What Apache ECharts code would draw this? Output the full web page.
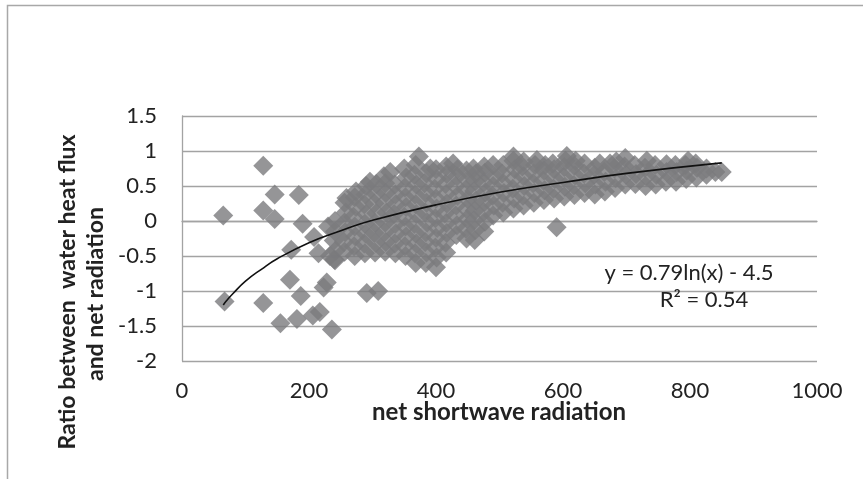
<!DOCTYPE html>
<html>
<head>
<meta charset="utf-8">
<title>ratio vs net shortwave radiation</title>
<script src="https://cdn.jsdelivr.net/npm/echarts@6/dist/echarts.min.js"></script>
<style>
  html, body { margin: 0; padding: 0; background: #fff; }
  #chart { width: 863px; height: 479px; }
</style>
</head>
<body>
<div id="chart"></div>
<script>
// scattered points away from the main cloud [x, y]
const sparsePoints = [
  [65, 0.08], [67, -1.15], [128, 0.79], [128, 0.15], [128, -1.17],
  [146, 0.38], [146, 0.03], [184, 0.37], [190, -0.04], [172, -0.41],
  [170, -0.84], [187, -1.07], [155, -1.46], [181, -1.40], [206, -1.35],
  [217, -1.30], [236, -1.55], [208, -0.23], [215, -0.46], [228, -0.88],
  [223, -0.95], [291, -1.03], [309, -1.00], [590, -0.09], [230, -0.08],
  [233, -0.50], [241, -0.56]
]

// main cloud, 240 - 480
const cloudLeft = [
  [240, -0.55], [242, -0.42], [239, -0.28], [241, -0.15], [241, 0.0],
  [256, -0.44], [255, -0.30], [257, -0.16], [256, -0.02], [258, 0.12], [256, 0.26], [259, 0.33],
  [272, -0.50], [271, -0.36], [273, -0.22], [272, -0.08], [270, 0.06], [274, 0.20], [272, 0.34], [274, 0.42],
  [288, -0.46], [287, -0.32], [289, -0.18], [288, -0.04], [290, 0.10], [287, 0.24], [289, 0.38], [290, 0.50],
  [304, -0.45], [305, -0.31], [303, -0.17], [304, -0.03], [306, 0.11], [303, 0.25], [305, 0.39], [296, 0.56], [306, 0.53],
  [320, -0.44], [321, -0.30], [319, -0.16], [320, -0.02], [322, 0.12], [319, 0.26], [321, 0.40], [320, 0.54], [318, 0.64],
  [336, -0.46], [335, -0.32], [337, -0.18], [336, -0.04], [334, 0.10], [337, 0.24], [336, 0.38], [335, 0.52], [328, 0.70],
  [352, -0.50], [351, -0.36], [353, -0.22], [352, -0.08], [350, 0.06], [353, 0.20], [352, 0.34], [351, 0.48], [353, 0.62], [350, 0.75],
  [368, -0.60], [367, -0.46], [369, -0.32], [368, -0.18], [366, -0.04], [369, 0.10], [368, 0.24], [367, 0.38], [369, 0.52], [366, 0.66], [368, 0.80], [373, 0.92],
  [384, -0.60], [385, -0.45], [383, -0.30], [384, -0.16], [386, -0.02], [383, 0.12], [385, 0.26], [384, 0.40], [382, 0.54], [385, 0.68], [391, 0.75],
  [400, -0.66], [401, -0.52], [399, -0.38], [400, -0.24], [402, -0.10], [399, 0.04], [401, 0.18], [400, 0.32], [398, 0.46], [401, 0.60], [400, 0.74],
  [416, -0.45], [415, -0.31], [417, -0.17], [416, -0.03], [414, 0.11], [417, 0.25], [416, 0.39], [415, 0.53], [417, 0.67], [416, 0.78],
  [432, -0.20], [433, -0.06], [431, 0.08], [432, 0.22], [434, 0.36], [431, 0.50], [433, 0.64], [427, 0.82], [434, 0.74],
  [448, -0.25], [447, -0.11], [449, 0.03], [448, 0.17], [450, 0.31], [447, 0.45], [449, 0.59], [448, 0.72],
  [461, -0.27], [462, -0.13], [460, 0.01], [461, 0.15], [463, 0.29], [460, 0.43], [462, 0.57], [459, 0.75], [463, 0.68],
  [476, -0.15], [477, -0.01], [475, 0.13], [476, 0.27], [478, 0.41], [475, 0.55], [477, 0.69], [476, 0.78]
]

// main cloud, 480 - 850
const cloudRight = [
  [490, 0.08], [491, 0.22], [489, 0.36], [490, 0.50], [492, 0.64], [490, 0.80],
  [506, 0.12], [505, 0.26], [507, 0.40], [506, 0.54], [504, 0.68], [506, 0.80],
  [522, 0.18], [523, 0.32], [521, 0.46], [522, 0.60], [524, 0.74], [522, 0.86], [522, 0.92],
  [538, 0.22], [537, 0.36], [539, 0.50], [538, 0.64], [536, 0.78], [538, 0.85],
  [554, 0.26], [555, 0.40], [553, 0.54], [554, 0.68], [556, 0.80], [559, 0.87],
  [570, 0.30], [571, 0.44], [569, 0.58], [570, 0.72], [572, 0.80],
  [586, 0.32], [585, 0.46], [587, 0.60], [586, 0.74], [584, 0.82],
  [602, 0.35], [603, 0.49], [601, 0.63], [602, 0.77], [606, 0.93], [604, 0.86],
  [618, 0.37], [617, 0.51], [619, 0.65], [618, 0.79], [620, 0.86],
  [634, 0.40], [635, 0.54], [633, 0.68], [634, 0.82],
  [650, 0.38], [651, 0.52], [649, 0.66], [658, 0.82], [650, 0.76],
  [666, 0.42], [667, 0.56], [665, 0.70], [674, 0.82],
  [682, 0.47], [683, 0.61], [681, 0.75], [684, 0.85],
  [698, 0.52], [699, 0.66], [697, 0.78], [698, 0.90],
  [714, 0.53], [715, 0.67], [713, 0.80],
  [730, 0.50], [731, 0.64], [729, 0.76], [732, 0.86],
  [746, 0.52], [747, 0.66], [745, 0.80],
  [762, 0.56], [763, 0.70], [763, 0.81],
  [778, 0.56], [779, 0.70], [777, 0.80],
  [794, 0.60], [795, 0.72], [797, 0.86], [793, 0.80],
  [810, 0.62], [811, 0.76], [809, 0.82],
  [826, 0.66], [826, 0.75],
  [840, 0.70], [850, 0.70]
]

// log trendline, points
const trendX = [65, 70, 80, 100, 125, 150, 200, 250, 300, 400, 500, 600, 700, 850]
const trendY = [-1.20, -1.14, -1.04, -0.86, -0.69, -0.54, -0.31, -0.14, 0.01, 0.23, 0.41, 0.55, 0.68, 0.83]

const xTicks = { min: 0, max: 1000, interval: 200 }
const yTicks = { min: -2, max: 1.5, interval: 0.5 }

const myChart = echarts.init(document.getElementById('chart'), null, { renderer: 'canvas' })

const fontName = 'Lato, "Open Sans", sans-serif'
const gridColor = '#a3a3a3'
const dotColor = '#7a7a7d'

myChart.setOption({
  animation: false,
  backgroundColor: '#fff',
  grid: {
    left: 182,
    right: 46,
    top: 116,
    bottom: 118
  },
  xAxis: {
    type: 'value',
    min: xTicks.min,
    max: xTicks.max,
    interval: xTicks.interval,
    axisLine: { show: true, lineStyle: { color: gridColor, width: 1.3 } },
    axisTick: { show: false },
    splitLine: { show: false },
    axisLabel: {
      color: '#222',
      fontFamily: fontName,
      fontSize: 22,
      margin: 19,
      formatter: (value) => String(value)
    }
  },
  yAxis: {
    type: 'value',
    min: yTicks.min,
    max: yTicks.max,
    interval: yTicks.interval,
    axisLine: { show: true, onZero: false, lineStyle: { color: gridColor, width: 1.3 } },
    axisTick: { show: false },
    splitLine: { show: true, lineStyle: { color: gridColor, width: 1.3 } },
    axisLabel: {
      color: '#222',
      fontFamily: fontName,
      fontSize: 22,
      margin: 25,
      formatter: (value) => String(value)
    }
  },
  graphic: [
    {
      type: 'rect',
      left: 5,
      top: 3,
      shape: { width: 900, height: 520 },
      style: { fill: 'none', stroke: '#a8a8a8', lineWidth: 1.5 },
      silent: true
    },
    {
      type: 'text',
      x: 499,
      y: 412,
      style: {
        text: 'net shortwave radiation',
        fontFamily: fontName,
        fontSize: 24,
        fontWeight: 'bold',
        fill: '#222',
        textAlign: 'center',
        textVerticalAlign: 'middle'
      }
    },
    {
      type: 'text',
      x: 68,
      y: 292,
      rotation: Math.PI / 2,
      style: {
        text: 'Ratio between  water heat flux',
        fontFamily: fontName,
        fontSize: 23,
        fontWeight: 'bold',
        fill: '#222',
        textAlign: 'center',
        textVerticalAlign: 'middle'
      }
    },
    {
      type: 'text',
      x: 96,
      y: 294,
      rotation: Math.PI / 2,
      style: {
        text: 'and net radiation',
        fontFamily: fontName,
        fontSize: 23,
        fontWeight: 'bold',
        fill: '#222',
        textAlign: 'center',
        textVerticalAlign: 'middle'
      }
    },
    {
      type: 'text',
      x: 689,
      y: 273,
      style: {
        text: 'y = 0.79ln(x) - 4.5',
        fontFamily: fontName,
        fontSize: 22,
        fill: '#222',
        textAlign: 'center',
        textVerticalAlign: 'middle'
      },
      z: 10
    },
    {
      type: 'text',
      x: 704,
      y: 300,
      style: {
        text: 'R² = 0.54',
        fontFamily: fontName,
        fontSize: 22,
        fill: '#222',
        textAlign: 'center',
        textVerticalAlign: 'middle'
      },
      z: 10
    }
  ],
  series: [
    {
      name: 'sparse',
      type: 'scatter',
      symbol: 'diamond',
      symbolSize: 20,
      itemStyle: { color: dotColor },
      data: sparsePoints
    },
    {
      name: 'cloud left',
      type: 'scatter',
      symbol: 'diamond',
      symbolSize: 20,
      itemStyle: { color: dotColor },
      data: cloudLeft
    },
    {
      name: 'cloud right',
      type: 'scatter',
      symbol: 'diamond',
      symbolSize: 20,
      itemStyle: { color: dotColor },
      data: cloudRight
    },
    {
      name: 'trend',
      type: 'line',
      smooth: true,
      showSymbol: false,
      z: 5,
      lineStyle: { color: '#111', width: 1.6 },
      data: trendX.map((x, i) => [x, trendY[i]])
    }
  ]
})
</script>
</body>
</html>
